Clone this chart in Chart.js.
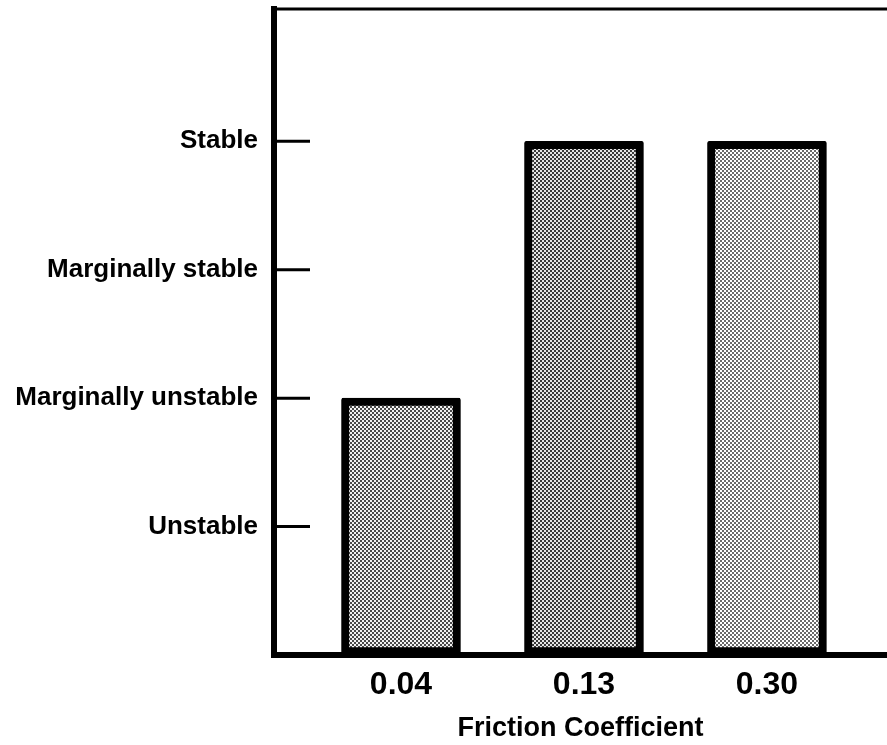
<!DOCTYPE html>
<html lang="en">
<head>
    <meta charset="UTF-8">
    <title>Stability vs Friction Coefficient</title>
    <script src="https://cdn.jsdelivr.net/npm/chart.js"></script>
    <style>
        body { margin: 0; background: #fff; }
        #wrap { width: 887px; height: 745px; }
    </style>
</head>
<body>
<div id="wrap"><canvas id="chart"></canvas></div>

<script>
    // data
    const frictionLabels = ['0.04', '0.13', '0.30'];
    const stabilityValues = [2, 4, 4];
    const stabilityLevels = ['Unstable', 'Marginally unstable', 'Marginally stable', 'Stable'];

    // halftone-ish fill: 2px checkerboard
    function halftone(dark, light) {
        const tile = document.createElement('canvas');
        tile.width = 4;
        tile.height = 4;
        const t = tile.getContext('2d');
        t.fillStyle = light;
        t.fillRect(0, 0, 4, 4);
        t.fillStyle = dark;
        t.fillRect(0, 0, 2, 2);
        t.fillRect(2, 2, 2, 2);
        return t.createPattern(tile, 'repeat');
    }
    const fills = [halftone('#4a4a4a', '#f2f2f2'), halftone('#3a3a3a', '#e6e6e6'), halftone('#6a6a6a', '#ffffff')];

    const font = "'Liberation Sans', Arial, sans-serif";

    // short tick marks pointing into the plot, plus the top frame line
    const frame = {
        id: 'frame',
        afterDraw(chart) {
            const {ctx, chartArea} = chart;
            const y = chart.scales.y;
            ctx.save();
            ctx.strokeStyle = '#000';
            ctx.lineWidth = 3;
            y.ticks.forEach(t => {
                const py = y.getPixelForValue(t.value);
                ctx.beginPath();
                ctx.moveTo(chartArea.left, py);
                ctx.lineTo(chartArea.left + 36, py);
                ctx.stroke();
            });
            ctx.beginPath();
            ctx.moveTo(chartArea.left - 3, chartArea.top);
            ctx.lineTo(chartArea.right, chartArea.top);
            ctx.stroke();
            ctx.restore();
        }
    };

    new Chart(document.getElementById('chart'), {
        type: 'bar',
        data: {
            datasets: [{
                data: stabilityValues.map((v, i) => ({x: i + 1, y: v})),
                backgroundColor: fills,
                borderColor: '#000',
                borderWidth: 8,
                borderSkipped: false,
                borderRadius: 2,
                barThickness: 119
            }]
        },
        options: {
            responsive: true,
            maintainAspectRatio: false,
            animation: false,
            events: [],
            layout: { padding: { top: 9, left: 0, right: 0, bottom: 0 } },
            plugins: { legend: { display: false }, tooltip: { enabled: false } },
            scales: {
                x: {
                    type: 'linear',
                    offset: false,
                    min: 0.306,
                    max: 3.656,
                    grid: { display: false },
                    border: { display: true, color: '#000', width: 6 },
                    afterBuildTicks: s => { s.ticks = frictionLabels.map((_, i) => ({value: i + 1})); },
                    afterFit: s => { s.height = 90; s.paddingLeft = 0; s.paddingRight = 0; },
                    ticks: {
                        color: '#000',
                        padding: 3,
                        font: { family: font, size: 32, weight: 'bold' },
                        callback: v => frictionLabels[v - 1]
                    },
                    title: {
                        display: true,
                        text: 'Friction Coefficient',
                        color: '#000',
                        padding: { top: 0, bottom: 0 },
                        font: { family: font, size: 27, weight: 'bold' }
                    }
                },
                y: {
                    min: 0,
                    max: 5.03,
                    grid: { display: false },
                    border: { display: true, color: '#000', width: 6 },
                    afterBuildTicks: s => { s.ticks = stabilityLevels.map((_, i) => ({value: i + 1})); },
                    afterFit: s => { s.width = 274; s.paddingTop = 0; s.paddingBottom = 0; },
                    ticks: {
                        color: '#000',
                        padding: 8,
                        font: { family: font, size: 26, weight: 'bold' },
                        callback: v => stabilityLevels[v - 1]
                    }
                }
            }
        },
        plugins: [frame]
    });
</script>
</body>
</html>
